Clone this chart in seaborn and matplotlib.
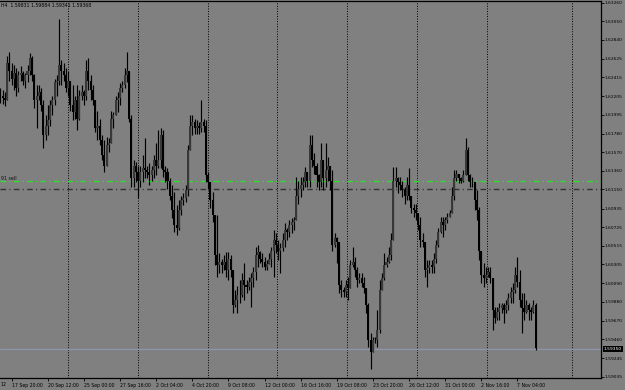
import numpy as np
import pandas as pd
import matplotlib
matplotlib.use("Agg")
import matplotlib.pyplot as plt
import seaborn as sns

# H4 bars (open = previous close)
first_open = 1.6225

highs = [
    1.6229, 1.6227, 1.6225, 1.6266, 1.6270, 1.6258, 1.6255, 1.6252, 1.6249, 1.6254,
    1.6249, 1.6247, 1.6255, 1.6269, 1.6266, 1.6245, 1.6233, 1.6233, 1.6229, 1.6216,
    1.6199, 1.6210, 1.6216, 1.6221, 1.6240, 1.6244, 1.6307, 1.6261, 1.6258, 1.6252,
    1.6249, 1.6238, 1.6233, 1.6221, 1.6233, 1.6227, 1.6233, 1.6227, 1.6261, 1.6263,
    1.6244, 1.6233, 1.6216, 1.6204, 1.6195, 1.6176, 1.6171, 1.6174, 1.6173, 1.6204,
    1.6202, 1.6221, 1.6225, 1.6235, 1.6238, 1.6252, 1.6270, 1.6240, 1.6199, 1.6148,
    1.6146, 1.6142, 1.6142, 1.6154, 1.6173, 1.6142, 1.6145, 1.6142, 1.6154, 1.6167,
    1.6182, 1.6184, 1.6182, 1.6142, 1.6139, 1.6128, 1.6120, 1.6112, 1.6097, 1.6103,
    1.6108, 1.6111, 1.6120, 1.6165, 1.6199, 1.6199, 1.6195, 1.6193, 1.6191, 1.6216,
    1.6195, 1.6193, 1.6135, 1.6120, 1.6112, 1.6086, 1.6086, 1.6043, 1.6037, 1.6041,
    1.6044, 1.6044, 1.6041, 1.6022, 1.6001, 1.6006, 1.6013, 1.6021, 1.6032, 1.6013,
    1.6016, 1.6021, 1.6027, 1.6050, 1.6052, 1.6046, 1.6043, 1.6039, 1.6035, 1.6043,
    1.6050, 1.6069, 1.6066, 1.6058, 1.6055, 1.6066, 1.6077, 1.6072, 1.6080, 1.6083,
    1.6084, 1.6129, 1.6125, 1.6129, 1.6129, 1.6140, 1.6133, 1.6176, 1.6176, 1.6156,
    1.6145, 1.6133, 1.6167, 1.6140, 1.6167, 1.6152, 1.6137, 1.6137, 1.6066, 1.6061,
    1.6055, 1.6013, 1.6005, 1.6013, 1.6016, 1.6035, 1.6050, 1.6039, 1.6027, 1.6021,
    1.6021, 1.6016, 1.5998, 1.5987, 1.5953, 1.5948, 1.5948, 1.5979, 1.6013, 1.6021,
    1.6043, 1.6039, 1.6050, 1.6066, 1.6140, 1.6140, 1.6129, 1.6129, 1.6125, 1.6118,
    1.6129, 1.6139, 1.6103, 1.6099, 1.6099, 1.6088, 1.6084, 1.6066, 1.6050, 1.6035,
    1.6035, 1.6035, 1.6043, 1.6058, 1.6072, 1.6084, 1.6084, 1.6084, 1.6088, 1.6092,
    1.6118, 1.6137, 1.6137, 1.6133, 1.6129, 1.6137, 1.6173, 1.6163, 1.6133, 1.6129,
    1.6118, 1.6114, 1.6095, 1.6035, 1.6032, 1.6027, 1.6027, 1.6027, 1.6013, 1.5982,
    1.5982, 1.5987, 1.5987, 1.5987, 1.5990, 1.5998, 1.6005, 1.6009, 1.6027, 1.6039,
    1.6024, 1.5998, 1.5998, 1.5990, 1.5987, 1.5982, 1.5990, 1.5987,
]

lows = [
    1.6213, 1.6211, 1.6209, 1.6216, 1.6238, 1.6233, 1.6227, 1.6221, 1.6225, 1.6238,
    1.6233, 1.6229, 1.6236, 1.6244, 1.6238, 1.6207, 1.6184, 1.6216, 1.6204, 1.6162,
    1.6171, 1.6176, 1.6187, 1.6199, 1.6210, 1.6221, 1.6233, 1.6233, 1.6238, 1.6225,
    1.6221, 1.6204, 1.6193, 1.6195, 1.6182, 1.6193, 1.6216, 1.6210, 1.6216, 1.6227,
    1.6216, 1.6210, 1.6180, 1.6171, 1.6165, 1.6148, 1.6135, 1.6142, 1.6157, 1.6171,
    1.6184, 1.6199, 1.6202, 1.6210, 1.6225, 1.6229, 1.6236, 1.6191, 1.6118, 1.6118,
    1.6123, 1.6105, 1.6118, 1.6123, 1.6128, 1.6128, 1.6120, 1.6125, 1.6128, 1.6131,
    1.6139, 1.6139, 1.6129, 1.6123, 1.6116, 1.6103, 1.6083, 1.6067, 1.6064, 1.6069,
    1.6086, 1.6097, 1.6101, 1.6108, 1.6162, 1.6176, 1.6178, 1.6178, 1.6178, 1.6180,
    1.6180, 1.6123, 1.6116, 1.6094, 1.6078, 1.6030, 1.6016, 1.6021, 1.6021, 1.6024,
    1.6016, 1.6013, 1.6016, 1.5976, 1.5982, 1.5976, 1.5987, 1.5994, 1.5990, 1.5998,
    1.6001, 1.5982, 1.6005, 1.6013, 1.6027, 1.6032, 1.6027, 1.6024, 1.6024, 1.6032,
    1.6027, 1.6016, 1.6043, 1.6035, 1.6021, 1.6046, 1.6050, 1.6058, 1.6061, 1.6066,
    1.6069, 1.6092, 1.6099, 1.6106, 1.6114, 1.6118, 1.6118, 1.6118, 1.6140, 1.6133,
    1.6118, 1.6114, 1.6118, 1.6114, 1.6118, 1.6125, 1.6114, 1.6046, 1.6050, 1.6032,
    1.5998, 1.5994, 1.5994, 1.5994, 1.5990, 1.6013, 1.6027, 1.6016, 1.6005, 1.6009,
    1.6005, 1.5998, 1.5976, 1.5937, 1.5912, 1.5937, 1.5942, 1.5937, 1.5953, 1.6009,
    1.6013, 1.6027, 1.6032, 1.6035, 1.6066, 1.6118, 1.6111, 1.6114, 1.6106, 1.6099,
    1.6103, 1.6103, 1.6088, 1.6084, 1.6080, 1.6069, 1.6050, 1.6050, 1.6016, 1.6005,
    1.6021, 1.6021, 1.6021, 1.6032, 1.6050, 1.6066, 1.6061, 1.6069, 1.6077, 1.6084,
    1.6088, 1.6103, 1.6125, 1.6122, 1.6122, 1.6123, 1.6133, 1.6125, 1.6118, 1.6118,
    1.6092, 1.6080, 1.6035, 1.6009, 1.6005, 1.6009, 1.6016, 1.6009, 1.5956, 1.5964,
    1.5968, 1.5968, 1.5976, 1.5964, 1.5976, 1.5979, 1.5987, 1.5987, 1.5998, 1.6005,
    1.5982, 1.5953, 1.5968, 1.5976, 1.5968, 1.5968, 1.5976, 1.5934,
]

closes = [
    1.6221, 1.6218, 1.6216, 1.6258, 1.6249, 1.6240, 1.6247, 1.6229, 1.6244, 1.6247,
    1.6238, 1.6244, 1.6249, 1.6263, 1.6244, 1.6216, 1.6221, 1.6225, 1.6210, 1.6176,
    1.6187, 1.6193, 1.6210, 1.6216, 1.6236, 1.6238, 1.6255, 1.6249, 1.6244, 1.6229,
    1.6238, 1.6210, 1.6202, 1.6216, 1.6195, 1.6221, 1.6225, 1.6221, 1.6249, 1.6238,
    1.6227, 1.6216, 1.6184, 1.6187, 1.6171, 1.6154, 1.6142, 1.6165, 1.6168, 1.6195,
    1.6199, 1.6216, 1.6218, 1.6229, 1.6233, 1.6244, 1.6249, 1.6195, 1.6128, 1.6142,
    1.6135, 1.6125, 1.6135, 1.6139, 1.6137, 1.6135, 1.6131, 1.6137, 1.6148, 1.6142,
    1.6148, 1.6176, 1.6137, 1.6135, 1.6125, 1.6108, 1.6092, 1.6075, 1.6071, 1.6092,
    1.6103, 1.6105, 1.6114, 1.6159, 1.6187, 1.6191, 1.6184, 1.6187, 1.6184, 1.6191,
    1.6187, 1.6131, 1.6123, 1.6103, 1.6086, 1.6041, 1.6030, 1.6033, 1.6030, 1.6033,
    1.6024, 1.6037, 1.6024, 1.5985, 1.5990, 1.5996, 1.5996, 1.6013, 1.6007, 1.6005,
    1.6011, 1.6015, 1.6022, 1.6041, 1.6044, 1.6037, 1.6033, 1.6028, 1.6031, 1.6037,
    1.6046, 1.6058, 1.6052, 1.6046, 1.6049, 1.6058, 1.6069, 1.6067, 1.6075, 1.6078,
    1.6080, 1.6108, 1.6116, 1.6120, 1.6123, 1.6135, 1.6125, 1.6165, 1.6148, 1.6142,
    1.6131, 1.6123, 1.6148, 1.6128, 1.6137, 1.6142, 1.6125, 1.6052, 1.6060, 1.6056,
    1.6007, 1.6001, 1.5999, 1.6007, 1.6004, 1.6030, 1.6033, 1.6024, 1.6013, 1.6015,
    1.6009, 1.6004, 1.5985, 1.5945, 1.5932, 1.5945, 1.5945, 1.5956, 1.6001, 1.6015,
    1.6030, 1.6033, 1.6041, 1.6058, 1.6125, 1.6128, 1.6123, 1.6120, 1.6114, 1.6108,
    1.6120, 1.6108, 1.6094, 1.6092, 1.6089, 1.6075, 1.6058, 1.6056, 1.6024, 1.6026,
    1.6030, 1.6028, 1.6037, 1.6052, 1.6067, 1.6078, 1.6075, 1.6080, 1.6084, 1.6089,
    1.6108, 1.6128, 1.6133, 1.6128, 1.6125, 1.6131, 1.6159, 1.6131, 1.6123, 1.6123,
    1.6103, 1.6092, 1.6046, 1.6018, 1.6015, 1.6018, 1.6022, 1.6015, 1.5979, 1.5970,
    1.5977, 1.5981, 1.5985, 1.5979, 1.5985, 1.5993, 1.5999, 1.6001, 1.6018, 1.6011,
    1.5990, 1.5981, 1.5977, 1.5985, 1.5979, 1.5977, 1.5985, 1.5936,
]

# time axis: bar index of each label, weekly separators
tick_bars = [5, 21, 37, 53, 69, 85, 101, 117, 133, 149, 165, 181, 197, 213, 229]
tick_labels = ["17 Sep 20:00", "20 Sep 12:00", "25 Sep 00:00", "27 Sep 16:00",
               "2 Oct 04:00", "4 Oct 20:00", "9 Oct 08:00", "12 Oct 00:00",
               "16 Oct 16:00", "19 Oct 08:00", "23 Oct 20:00", "26 Oct 12:00",
               "31 Oct 00:00", "2 Nov 16:00", "7 Nov 04:00"]
separator_bars = [30, 61, 92, 122.5, 153.5, 184.5, 215.5, 253]

price_ticks = [1.63260, 1.63050, 1.62840, 1.62625, 1.62415, 1.62205, 1.61995,
               1.61780, 1.61570, 1.61360, 1.61150, 1.60935, 1.60725, 1.60515,
               1.60305, 1.60090, 1.59880, 1.59670, 1.59460, 1.59245, 1.59035]

sell_level = 1.6125
stop_level = 1.6115
bid = 1.5935
header = "H4  1.59831 1.59884 1.59341 1.59368"

df = pd.DataFrame({"high": highs, "low": lows, "close": closes})
df["open"] = [first_open] + closes[:-1]
df["bar"] = np.arange(len(df))
df["high"] = df[["high", "open", "close"]].max(axis=1)
df["low"] = df[["low", "open", "close"]].min(axis=1)
df["up"] = df["close"] >= df["open"]

bg = "#808080"
sns.set_theme(style="ticks", rc={"axes.facecolor": bg, "figure.facecolor": bg,
                                 "savefig.facecolor": bg})
plt.rcParams["font.family"] = ["DejaVu Sans"]

fig = plt.figure(figsize=(6.25, 3.9), dpi=100)
ax = fig.add_axes([0.0, 12 / 390, 601 / 625, 377.5 / 390])

# weekly separators
for b in separator_bars:
    ax.axvline(b, color="black", ls=(0, (1, 1.6)), lw=0.7, zorder=1)

# order lines and bid line
ax.axhline(sell_level, color="#2ee02e", ls=(0, (4, 2.4, 0.8, 2.4)), lw=1.0, zorder=1.5)
ax.axhline(stop_level, color="#333333", ls=(0, (4, 2.4, 0.8, 2.4)), lw=1.0, zorder=1.5)
ax.axhline(bid, color="#8e97aa", lw=0.9, zorder=1.5)

# candles
ax.vlines(df["bar"], df["low"], df["high"], color="black", lw=0.85, zorder=2)
body_bottom = df[["open", "close"]].min(axis=1)
body_height = (df["close"] - df["open"]).abs().clip(lower=0.00004)
ax.bar(df["bar"], body_height, bottom=body_bottom, width=0.9,
       color=np.where(df["up"], "#383838", "#000000"), linewidth=0, zorder=3)

ax.set_xlim(-0.18, 266.0)
ax.set_ylim(1.59022, 1.63283)

ax.set_xticks(tick_bars)
ax.set_xticklabels(tick_labels, ha="left")
ax.yaxis.tick_right()
ax.set_yticks(price_ticks)
ax.set_yticklabels([f"{p:.5f}" for p in price_ticks])
ax.tick_params(axis="x", labelsize=3.3, length=2, width=0.6, pad=1.5, colors="black")
ax.tick_params(axis="y", labelsize=3.2, length=2, width=0.6, pad=0.8, colors="black")

for side in ["top", "right", "bottom"]:
    ax.spines[side].set_color("black")
    ax.spines[side].set_linewidth(0.9)
ax.spines["left"].set_visible(False)

# current bid box on the price scale
ax.text(1.0045, bid, f"{bid:.5f}", transform=ax.get_yaxis_transform(),
        fontsize=3.2, color="white", va="center", ha="left",
        bbox=dict(boxstyle="square,pad=0.2", fc="black", ec="none"))

ax.text(0.001, sell_level, "91 sell", transform=ax.get_yaxis_transform(),
        fontsize=3.4, color="#101010", va="bottom", ha="left")
ax.text(0.001, 0.993, header, transform=ax.transAxes,
        fontsize=3.3, color="black", va="top", ha="left")
fig.text(0.0, 5 / 390, "12", fontsize=3.3, color="black", va="center", ha="left")

fig.savefig("out.png", dpi=100)
